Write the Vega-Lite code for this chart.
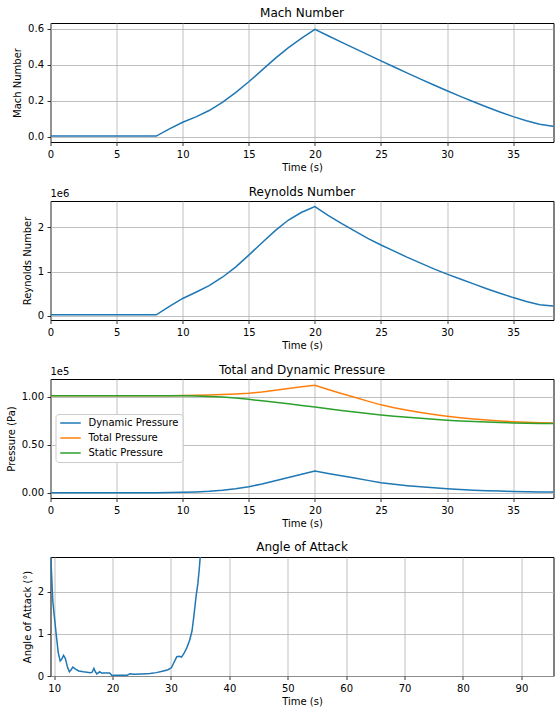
{
  "$schema": "https://vega.github.io/schema/vega-lite/v6.json",
  "padding": {"left": 5.5, "top": 6, "right": 6, "bottom": 4},
  "spacing": 59,
  "bounds": "flush",
  "config": {
    "font": "DejaVu Sans",
    "view": {"stroke": "#000", "strokeWidth": 1},
    "axis": {"domain": false, "grid": true, "gridColor": "#b0b0b0", "gridWidth": 0.8, "tickColor": "#000", "tickSize": 3.5, "tickWidth": 0.8, "labelFontSize": 10, "labelColor": "#000", "titleFontSize": 10, "titleFontWeight": "normal", "titleColor": "#000", "labelPadding": 3.5, "titlePadding": 3, "labelFlush": false, "labelOverlap": false},
    "axisY": {"titlePadding": 5},
    "title": {"fontSize": 12, "fontWeight": "normal", "color": "#000", "offset": 3, "frame": "group"},
    "legend": {"orient": "none", "legendX": 5, "legendY": 391, "fillColor": "#fff", "strokeColor": "#cccccc", "cornerRadius": 3, "padding": 4, "symbolType": "stroke", "symbolStrokeWidth": 1.5, "symbolSize": 420, "labelFontSize": 10, "labelColor": "#000", "labelOffset": 7, "rowPadding": 5, "clipHeight": 10}
  },
  "datasets": {
    "mach": [
      {"t": 0, "M": 0.003}, {"t": 8, "M": 0.003}, {"t": 9, "M": 0.043}, {"t": 10, "M": 0.08}, {"t": 11, "M": 0.11}, {"t": 12, "M": 0.145}, {"t": 13, "M": 0.19}, {"t": 14, "M": 0.245}, {"t": 15, "M": 0.305}, {"t": 16, "M": 0.37}, {"t": 17, "M": 0.435}, {"t": 18, "M": 0.495}, {"t": 19, "M": 0.548}, {"t": 20, "M": 0.597}, {"t": 21, "M": 0.561}, {"t": 22, "M": 0.526}, {"t": 23, "M": 0.491}, {"t": 24, "M": 0.456}, {"t": 25, "M": 0.421}, {"t": 26, "M": 0.387}, {"t": 27, "M": 0.353}, {"t": 28, "M": 0.32}, {"t": 29, "M": 0.287}, {"t": 30, "M": 0.255}, {"t": 31, "M": 0.224}, {"t": 32, "M": 0.194}, {"t": 33, "M": 0.165}, {"t": 34, "M": 0.137}, {"t": 35, "M": 0.111}, {"t": 36, "M": 0.088}, {"t": 37, "M": 0.069}, {"t": 38, "M": 0.058}, {"t": 38.05, "M": 0.057}
    ],
    "reynolds": [
      {"t": 0, "Re": 20000}, {"t": 8, "Re": 20000}, {"t": 9, "Re": 210000}, {"t": 10, "Re": 390000}, {"t": 11, "Re": 530000}, {"t": 12, "Re": 680000}, {"t": 13, "Re": 870000}, {"t": 14, "Re": 1100000}, {"t": 15, "Re": 1370000}, {"t": 16, "Re": 1650000}, {"t": 17, "Re": 1925000}, {"t": 18, "Re": 2165000}, {"t": 19, "Re": 2340000}, {"t": 20, "Re": 2470000}, {"t": 21, "Re": 2270000}, {"t": 22, "Re": 2090000}, {"t": 23, "Re": 1920000}, {"t": 24, "Re": 1750000}, {"t": 25, "Re": 1600000}, {"t": 26, "Re": 1460000}, {"t": 27, "Re": 1320000}, {"t": 28, "Re": 1190000}, {"t": 29, "Re": 1060000}, {"t": 30, "Re": 940000}, {"t": 31, "Re": 830000}, {"t": 32, "Re": 720000}, {"t": 33, "Re": 610000}, {"t": 34, "Re": 510000}, {"t": 35, "Re": 410000}, {"t": 36, "Re": 320000}, {"t": 37, "Re": 250000}, {"t": 38, "Re": 220000}, {"t": 38.05, "Re": 218000}
    ],
    "pressure": [
      {"t": 0, "series": "Dynamic Pressure", "p": 0}, {"t": 8, "series": "Dynamic Pressure", "p": 0}, {"t": 9, "series": "Dynamic Pressure", "p": 150}, {"t": 10, "series": "Dynamic Pressure", "p": 450}, {"t": 11, "series": "Dynamic Pressure", "p": 850}, {"t": 12, "series": "Dynamic Pressure", "p": 1500}, {"t": 13, "series": "Dynamic Pressure", "p": 2500}, {"t": 14, "series": "Dynamic Pressure", "p": 4200}, {"t": 15, "series": "Dynamic Pressure", "p": 6300}, {"t": 16, "series": "Dynamic Pressure", "p": 9200}, {"t": 17, "series": "Dynamic Pressure", "p": 12500}, {"t": 18, "series": "Dynamic Pressure", "p": 16000}, {"t": 19, "series": "Dynamic Pressure", "p": 19400}, {"t": 20, "series": "Dynamic Pressure", "p": 22800}, {"t": 21, "series": "Dynamic Pressure", "p": 20200}, {"t": 22, "series": "Dynamic Pressure", "p": 17800}, {"t": 23, "series": "Dynamic Pressure", "p": 15400}, {"t": 24, "series": "Dynamic Pressure", "p": 12900}, {"t": 25, "series": "Dynamic Pressure", "p": 10500}, {"t": 26, "series": "Dynamic Pressure", "p": 8800}, {"t": 27, "series": "Dynamic Pressure", "p": 7400}, {"t": 28, "series": "Dynamic Pressure", "p": 6200}, {"t": 29, "series": "Dynamic Pressure", "p": 5100}, {"t": 30, "series": "Dynamic Pressure", "p": 4200}, {"t": 31, "series": "Dynamic Pressure", "p": 3400}, {"t": 32, "series": "Dynamic Pressure", "p": 2700}, {"t": 33, "series": "Dynamic Pressure", "p": 2100}, {"t": 34, "series": "Dynamic Pressure", "p": 1700}, {"t": 35, "series": "Dynamic Pressure", "p": 1300}, {"t": 36, "series": "Dynamic Pressure", "p": 1000}, {"t": 37, "series": "Dynamic Pressure", "p": 800}, {"t": 38, "series": "Dynamic Pressure", "p": 700}, {"t": 38.05, "series": "Dynamic Pressure", "p": 700},
      {"t": 0, "series": "Total Pressure", "p": 101300}, {"t": 8, "series": "Total Pressure", "p": 101300}, {"t": 9, "series": "Total Pressure", "p": 101430}, {"t": 10, "series": "Total Pressure", "p": 101650}, {"t": 11, "series": "Total Pressure", "p": 101850}, {"t": 12, "series": "Total Pressure", "p": 102100}, {"t": 13, "series": "Total Pressure", "p": 102500}, {"t": 14, "series": "Total Pressure", "p": 103200}, {"t": 15, "series": "Total Pressure", "p": 103900}, {"t": 16, "series": "Total Pressure", "p": 105200}, {"t": 17, "series": "Total Pressure", "p": 107000}, {"t": 18, "series": "Total Pressure", "p": 108900}, {"t": 19, "series": "Total Pressure", "p": 110600}, {"t": 20, "series": "Total Pressure", "p": 112300}, {"t": 21, "series": "Total Pressure", "p": 107900}, {"t": 22, "series": "Total Pressure", "p": 103700}, {"t": 23, "series": "Total Pressure", "p": 99700}, {"t": 24, "series": "Total Pressure", "p": 95700}, {"t": 25, "series": "Total Pressure", "p": 91800}, {"t": 26, "series": "Total Pressure", "p": 88800}, {"t": 27, "series": "Total Pressure", "p": 86200}, {"t": 28, "series": "Total Pressure", "p": 83900}, {"t": 29, "series": "Total Pressure", "p": 81800}, {"t": 30, "series": "Total Pressure", "p": 80000}, {"t": 31, "series": "Total Pressure", "p": 78400}, {"t": 32, "series": "Total Pressure", "p": 77100}, {"t": 33, "series": "Total Pressure", "p": 75900}, {"t": 34, "series": "Total Pressure", "p": 75000}, {"t": 35, "series": "Total Pressure", "p": 74200}, {"t": 36, "series": "Total Pressure", "p": 73600}, {"t": 37, "series": "Total Pressure", "p": 73200}, {"t": 38, "series": "Total Pressure", "p": 72900}, {"t": 38.05, "series": "Total Pressure", "p": 72900},
      {"t": 0, "series": "Static Pressure", "p": 101300}, {"t": 8, "series": "Static Pressure", "p": 101300}, {"t": 9, "series": "Static Pressure", "p": 101280}, {"t": 10, "series": "Static Pressure", "p": 101200}, {"t": 11, "series": "Static Pressure", "p": 101000}, {"t": 12, "series": "Static Pressure", "p": 100600}, {"t": 13, "series": "Static Pressure", "p": 100000}, {"t": 14, "series": "Static Pressure", "p": 99000}, {"t": 15, "series": "Static Pressure", "p": 97600}, {"t": 16, "series": "Static Pressure", "p": 96000}, {"t": 17, "series": "Static Pressure", "p": 94500}, {"t": 18, "series": "Static Pressure", "p": 92900}, {"t": 19, "series": "Static Pressure", "p": 91200}, {"t": 20, "series": "Static Pressure", "p": 89500}, {"t": 21, "series": "Static Pressure", "p": 87700}, {"t": 22, "series": "Static Pressure", "p": 85900}, {"t": 23, "series": "Static Pressure", "p": 84300}, {"t": 24, "series": "Static Pressure", "p": 82800}, {"t": 25, "series": "Static Pressure", "p": 81300}, {"t": 26, "series": "Static Pressure", "p": 80000}, {"t": 27, "series": "Static Pressure", "p": 78800}, {"t": 28, "series": "Static Pressure", "p": 77700}, {"t": 29, "series": "Static Pressure", "p": 76700}, {"t": 30, "series": "Static Pressure", "p": 75800}, {"t": 31, "series": "Static Pressure", "p": 75000}, {"t": 32, "series": "Static Pressure", "p": 74400}, {"t": 33, "series": "Static Pressure", "p": 73800}, {"t": 34, "series": "Static Pressure", "p": 73300}, {"t": 35, "series": "Static Pressure", "p": 72900}, {"t": 36, "series": "Static Pressure", "p": 72600}, {"t": 37, "series": "Static Pressure", "p": 72400}, {"t": 38, "series": "Static Pressure", "p": 72200}, {"t": 38.05, "series": "Static Pressure", "p": 72200}
    ],
    "aoa": [
      {"t": 9.37, "a": 3.0}, {"t": 9.76, "a": 1.79}, {"t": 10.0, "a": 1.45}, {"t": 10.34, "a": 1.0}, {"t": 10.7, "a": 0.55}, {"t": 11.03, "a": 0.36}, {"t": 11.3, "a": 0.4}, {"t": 11.6, "a": 0.49}, {"t": 11.9, "a": 0.42}, {"t": 12.3, "a": 0.2}, {"t": 12.6, "a": 0.1}, {"t": 12.9, "a": 0.15}, {"t": 13.2, "a": 0.21}, {"t": 13.6, "a": 0.17}, {"t": 14.2, "a": 0.12}, {"t": 15.0, "a": 0.1}, {"t": 16.2, "a": 0.08}, {"t": 16.5, "a": 0.09}, {"t": 16.8, "a": 0.18}, {"t": 17.05, "a": 0.1}, {"t": 17.3, "a": 0.05}, {"t": 17.8, "a": 0.1}, {"t": 18.1, "a": 0.07}, {"t": 18.5, "a": 0.07}, {"t": 19.5, "a": 0.07}, {"t": 19.9, "a": 0.01}, {"t": 20.5, "a": 0.02}, {"t": 21.3, "a": 0.02}, {"t": 22.5, "a": 0.02}, {"t": 23.0, "a": 0.055}, {"t": 23.6, "a": 0.04}, {"t": 25.0, "a": 0.05}, {"t": 26.4, "a": 0.06}, {"t": 27.5, "a": 0.08}, {"t": 28.7, "a": 0.12}, {"t": 29.5, "a": 0.15}, {"t": 30.1, "a": 0.2}, {"t": 30.5, "a": 0.32}, {"t": 31.0, "a": 0.46}, {"t": 31.4, "a": 0.47}, {"t": 31.8, "a": 0.45}, {"t": 32.2, "a": 0.53}, {"t": 32.7, "a": 0.67}, {"t": 33.2, "a": 0.85}, {"t": 33.6, "a": 1.07}, {"t": 33.9, "a": 1.4}, {"t": 34.3, "a": 1.9}, {"t": 34.6, "a": 2.19}, {"t": 34.85, "a": 2.55}, {"t": 35.0, "a": 2.82}, {"t": 35.2, "a": 3.3}, {"t": 35.5, "a": 4.2}
    ]
  },
  "vconcat": [
    {
      "width": 503, "height": 119,
      "title": "Mach Number",
      "data": {"name": "mach"},
      "mark": {"type": "line", "color": "#1f77b4", "strokeWidth": 1.5, "clip": true},
      "encoding": {
        "x": {"field": "t", "type": "quantitative", "scale": {"domain": [0, 38.05], "nice": false, "zero": false}, "axis": {"title": "Time (s)", "values": [0, 5, 10, 15, 20, 25, 30, 35]}},
        "y": {"field": "M", "type": "quantitative", "scale": {"domain": [-0.03, 0.632], "nice": false, "zero": false}, "axis": {"title": "Mach Number", "values": [0, 0.2, 0.4, 0.6], "format": ".1f"}}
      }
    },
    {
      "width": 503, "height": 119,
      "title": {"text": "Reynolds Number", "offset": -9.5},
      "layer": [
        {
          "data": {"name": "reynolds"},
          "mark": {"type": "line", "color": "#1f77b4", "strokeWidth": 1.5, "clip": true},
          "encoding": {
            "x": {"field": "t", "type": "quantitative", "scale": {"domain": [0, 38.05], "nice": false, "zero": false}, "axis": {"title": "Time (s)", "values": [0, 5, 10, 15, 20, 25, 30, 35]}},
            "y": {"field": "Re", "type": "quantitative", "scale": {"domain": [-97000, 2595000], "nice": false, "zero": false}, "axis": {"title": "Reynolds Number", "values": [0, 1000000, 2000000], "labelExpr": "format(datum.value/1e6, 'd')"}}
          }
        },
        {
          "data": {"values": [{"label": "1e6"}]},
          "mark": {"type": "text", "align": "left", "baseline": "bottom", "dy": -2, "fontSize": 10, "color": "#000"},
          "encoding": {
            "text": {"field": "label"},
            "x": {"datum": 0, "type": "quantitative"},
            "y": {"datum": 2595000, "type": "quantitative"}
          }
        }
      ]
    },
    {
      "width": 503, "height": 119,
      "title": {"text": "Total and Dynamic Pressure", "offset": -9.5},
      "layer": [
        {
          "data": {"name": "pressure"},
          "mark": {"type": "line", "strokeWidth": 1.5, "clip": true},
          "encoding": {
            "x": {"field": "t", "type": "quantitative", "scale": {"domain": [0, 38.05], "nice": false, "zero": false}, "axis": {"title": "Time (s)", "values": [0, 5, 10, 15, 20, 25, 30, 35]}},
            "y": {"field": "p", "type": "quantitative", "scale": {"domain": [-5500, 118800], "nice": false, "zero": false}, "axis": {"title": "Pressure (Pa)", "values": [0, 25000, 50000, 75000, 100000], "labelExpr": "format(datum.value/1e5, '.2f')"}},
            "color": {"field": "series", "type": "nominal", "scale": {"domain": ["Dynamic Pressure", "Total Pressure", "Static Pressure"], "range": ["#1f77b4", "#ff7f0e", "#2ca02c"]}, "legend": {"title": null}}
          }
        },
        {
          "data": {"values": [{"label": "1e5"}]},
          "mark": {"type": "text", "align": "left", "baseline": "bottom", "dy": -2, "fontSize": 10, "color": "#000"},
          "encoding": {
            "text": {"field": "label"},
            "x": {"datum": 0, "type": "quantitative"},
            "y": {"datum": 118800, "type": "quantitative"}
          }
        }
      ]
    },
    {
      "width": 503, "height": 119,
      "title": "Angle of Attack",
      "data": {"name": "aoa"},
      "mark": {"type": "line", "color": "#1f77b4", "strokeWidth": 1.5, "clip": true},
      "encoding": {
        "x": {"field": "t", "type": "quantitative", "scale": {"domain": [9.37, 95.5], "nice": false, "zero": false}, "axis": {"title": "Time (s)", "values": [10, 20, 30, 40, 50, 60, 70, 80, 90]}},
        "y": {"field": "a", "type": "quantitative", "scale": {"domain": [0, 2.83], "nice": false, "zero": false}, "axis": {"title": "Angle of Attack (°)", "values": [0, 1, 2]}}
      }
    }
  ]
}
